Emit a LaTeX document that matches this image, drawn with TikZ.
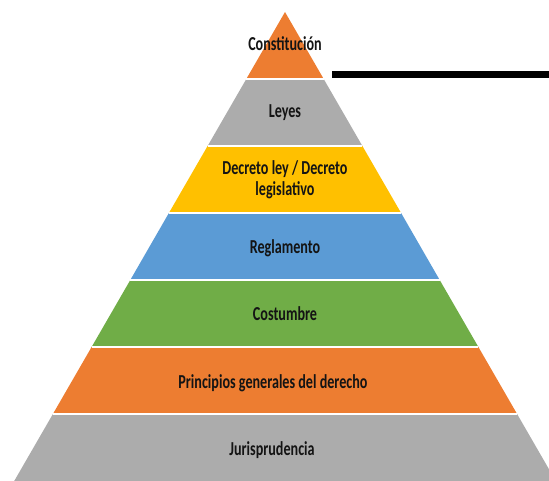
\documentclass[tikz,border=0pt]{standalone}
\usepackage{fontspec}
\setmainfont{Carlito}

\newcommand{\tallbox}[1]{\scalebox{1}[1.4]{\begin{tabular}{@{}c@{}}#1\end{tabular}}}

\tikzset{every picture/.style={line width=0.75pt}}
\tikzset{
  band/.style={draw opacity=0, fill opacity=1},
  gap/.style={draw=white, line width=1.5},
  level/.style={font=\fontsize{10.6}{11.2}\selectfont\bfseries, text={rgb,255:red,20;green,20;blue,20}, inner sep=0pt},
}

\begin{document}
\begin{tikzpicture}[x=0.75pt,y=0.75pt,yscale=-1,xscale=1]
	\useasboundingbox (0,0) rectangle (549,481);
	\clip (0,0) rectangle (549,481);

	%Shape: Triangle [id:constitucion]
	\draw  [band][fill={rgb, 255:red, 237; green, 125; blue, 49 }] (285,12) -- (323.7,79) -- (246.3,79) -- cycle ;
	%Shape: Trapezoid [id:leyes]
	\draw  [band][fill={rgb, 255:red, 172; green, 172; blue, 172 }] (246.3,79) -- (323.7,79) -- (362.4,146) -- (207.6,146) -- cycle ;
	%Shape: Trapezoid [id:decreto]
	\draw  [band][fill={rgb, 255:red, 255; green, 192; blue, 0 }] (207.6,146) -- (362.4,146) -- (401.1,213) -- (168.9,213) -- cycle ;
	%Shape: Trapezoid [id:reglamento]
	\draw  [band][fill={rgb, 255:red, 91; green, 155; blue, 213 }] (168.9,213) -- (401.1,213) -- (439.7,280) -- (130.3,280) -- cycle ;
	%Shape: Trapezoid [id:costumbre]
	\draw  [band][fill={rgb, 255:red, 112; green, 173; blue, 71 }] (130.3,280) -- (439.7,280) -- (478.4,347) -- (91.6,347) -- cycle ;
	%Shape: Trapezoid [id:principios]
	\draw  [band][fill={rgb, 255:red, 237; green, 125; blue, 49 }] (91.6,347) -- (478.4,347) -- (517.1,414) -- (52.9,414) -- cycle ;
	%Shape: Trapezoid [id:jurisprudencia]
	\draw  [band][fill={rgb, 255:red, 172; green, 172; blue, 172 }] (52.9,414) -- (517.1,414) -- (555.8,481) -- (14.2,481) -- cycle ;

	%Straight Lines [id:gaps]
	\draw [gap]  (246.3,79) -- (323.7,79) ;
	\draw [gap]  (207.6,146) -- (362.4,146) ;
	\draw [gap]  (168.9,213) -- (401.1,213) ;
	\draw [gap]  (130.3,280) -- (439.7,280) ;
	\draw [gap]  (91.6,347) -- (478.4,347) ;
	\draw [gap]  (52.9,414) -- (517.1,414) ;

	%Straight Lines [id:bar]
	\draw [line width=5.25]  (332,75) -- (549,75) ;

	% Text Node
	\node [level] (tconstitucion) at (285,46.5) {\tallbox{Constitución}};
	% Text Node
	\node [level] (tleyes) at (285,113.5) {\tallbox{Leyes}};
	% Text Node
	\node [level] (tdecreto) at (285,181) {\tallbox{Decreto ley / Decreto\\legislativo}};
	% Text Node
	\node [level] (treglamento) at (285,249) {\tallbox{Reglamento}};
	% Text Node
	\node [level] (tcostumbre) at (285,316) {\tallbox{Costumbre}};
	% Text Node
	\node [level] (tprincipios) at (273,384) {\tallbox{Principios generales del derecho}};
	% Text Node
	\node [level] (tjurisprudencia) at (272,451) {\tallbox{Jurisprudencia}};

\end{tikzpicture}
\end{document}
